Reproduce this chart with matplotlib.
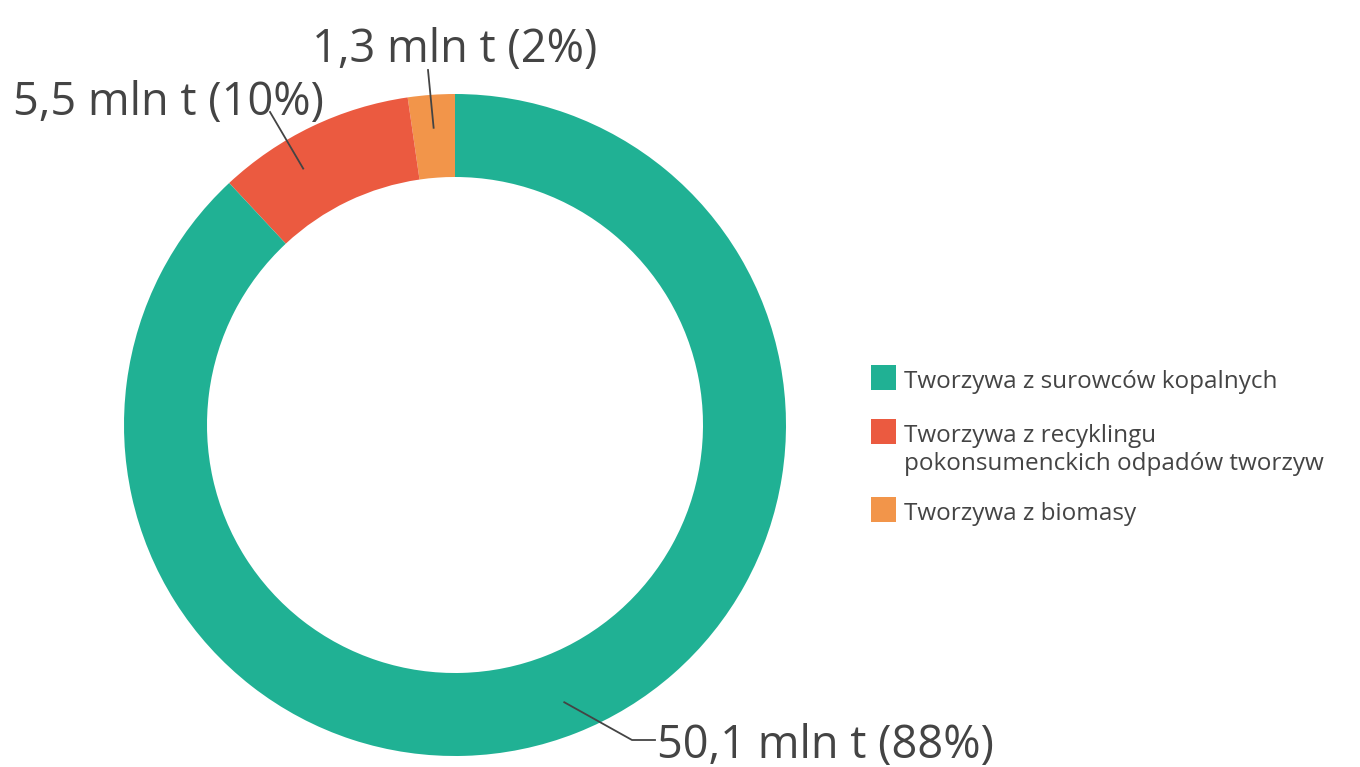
import numpy as np
import matplotlib.pyplot as plt
from matplotlib.patches import Rectangle

# dane
labels = ["Tworzywa z biomasy",
          "Tworzywa z recyklingu\npokonsumenckich odpadów tworzyw",
          "Tworzywa z surowców kopalnych"]
values = [1.3, 5.5, 50.1]
value_labels = ["1,3 mln t (2%)", "5,5 mln t (10%)", "50,1 mln t (88%)"]
colors = ["#F2954A", "#EB5A40", "#20B194"]

plt.rcParams['font.family'] = ['Open Sans', 'DejaVu Sans']
txt_col = "#444444"

fig = plt.figure(figsize=(13.6, 7.67), dpi=100)
ax = fig.add_axes([0, 0, 1, 1])

cx, cy, R = 455, 342, 331
wedges, _ = ax.pie(values, colors=colors, startangle=90, counterclock=True,
                   radius=R, center=(cx, cy), frame=True,
                   wedgeprops=dict(width=83, linewidth=0))
ax.set_xlim(0, 1360)
ax.set_ylim(0, 767)
ax.set_aspect('equal')
ax.axis('off')

# etykiety z liniami
label_pos = [(455, 717), (168, 664), (657, 21)]
line_end = [[(428, 697)], [(270, 655)], [(632, 27), (655, 27)]]
ang_off = [0, 5, 0]
aligns = ["center", "center", "left"]
cum = np.cumsum([0] + values)
tot = sum(values)
for i in range(3):
    mid = np.deg2rad(90 + 360 * (cum[i] + cum[i + 1]) / 2 / tot + ang_off[i])
    r = 298
    px, py = cx + r * np.cos(mid), cy + r * np.sin(mid)
    pts = [(px, py)] + line_end[i]
    ax.plot([p[0] for p in pts], [p[1] for p in pts], color=txt_col, lw=1.3)
    ax.text(label_pos[i][0], label_pos[i][1], value_labels[i], fontsize=32.5,
            color=txt_col, ha=aligns[i], va="center")

# legenda
order = [2, 1, 0]
sq_bottom = [767 - 390, 767 - 444, 767 - 522]
for k, i in enumerate(order):
    ax.add_patch(Rectangle((871, sq_bottom[k]), 25, 25, color=colors[i], lw=0))
    base = sq_bottom[k] + 2
    for j, line in enumerate(labels[i].split("\n")):
        ax.text(904, base - 28 * j, line, fontsize=17.5,
                color=txt_col, ha="left", va="baseline")

fig.savefig("out.png", dpi=100)
